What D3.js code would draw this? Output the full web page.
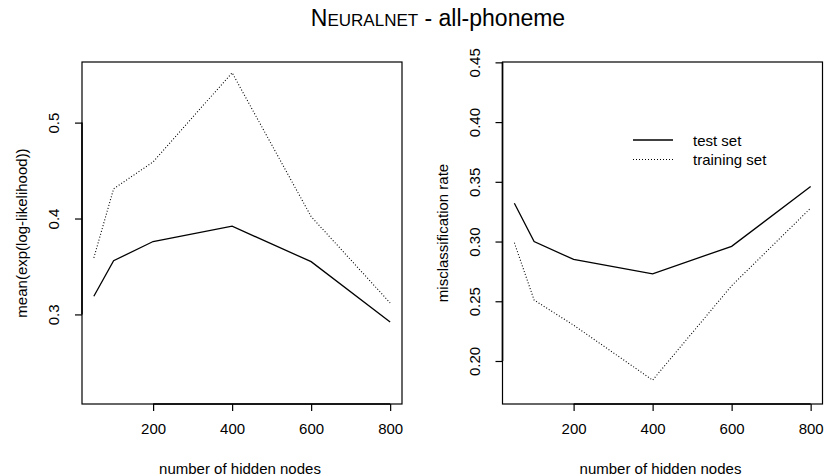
<!DOCTYPE html>
<html>
<head>
<meta charset="utf-8">
<script src="https://cdn.jsdelivr.net/npm/d3@7"></script>
<style>
  body { margin: 0; background: #fff; }
  svg { display: block; font-family: "Liberation Sans", Arial, sans-serif; }
</style>
</head>
<body>
<svg width="824" height="476"></svg>
<script>
// hidden node counts
var nodes = [50, 100, 200, 400, 600, 800];

// left panel: mean(exp(log-likelihood))
var likTest = [0.319, 0.356, 0.376, 0.392, 0.355, 0.292];
var likTrain = [0.359, 0.431, 0.459, 0.552, 0.402, 0.312];

// right panel: misclassification rate
var errTest = [0.332, 0.300, 0.285, 0.273, 0.296, 0.346];
var errTrain = [0.299, 0.251, 0.230, 0.184, 0.263, 0.328];

var xTicks = [200, 400, 600, 800];
var likTicks = [0.3, 0.4, 0.5];
var errTicks = [0.20, 0.25, 0.30, 0.35, 0.40, 0.45];

var svg = d3.select("svg");

// title with small caps for the method name
var title = svg.append("text")
    .attr("x", 438).attr("y", 25.5)
    .attr("text-anchor", "middle")
    .attr("font-size", 23);
title.append("tspan").text("N");
title.append("tspan").attr("font-size", 17).text("EURALNET");
title.append("tspan").text(" - all-phoneme");

function panel(left, yDomain, yTicks, yFmt, test, train, ylab) {
    var x = d3.scaleLinear().domain([20, 830]).range([left, left + 320]);
    var y = d3.scaleLinear().domain(yDomain).range([404, 62]);
    var g = svg.append("g");

    var xa = g.append("g").attr("transform", "translate(0,404)")
        .call(d3.axisBottom(x).tickValues(xTicks).tickSize(7).tickPadding(12));
    xa.select(".domain").remove();
    xa.selectAll("text").attr("font-size", 15).attr("font-family", null).attr("dy", "0.71em");

    var ya = g.append("g").attr("transform", "translate(" + left + ",0)")
        .call(d3.axisLeft(y).tickValues(yTicks).tickFormat(yFmt).tickSize(7));
    ya.select(".domain").remove();
    ya.selectAll("text")
        .attr("font-size", 15).attr("font-family", null)
        .attr("text-anchor", "middle")
        .attr("x", null).attr("dy", null)
        .attr("transform", "translate(-23,0) rotate(-90)");

    g.selectAll(".tick line").attr("stroke-width", 1.2);

    g.append("rect")
        .attr("x", left).attr("y", 62)
        .attr("width", 320).attr("height", 342)
        .attr("fill", "none").attr("stroke", "#000").attr("stroke-width", 1.2);

    // axis lines between first and last tick, drawn over the box
    g.append("line")
        .attr("x1", x(xTicks[0])).attr("x2", x(xTicks[xTicks.length - 1]))
        .attr("y1", 404).attr("y2", 404)
        .attr("stroke", "#000").attr("stroke-width", 1.6);
    g.append("line")
        .attr("x1", left).attr("x2", left)
        .attr("y1", y(yTicks[0])).attr("y2", y(yTicks[yTicks.length - 1]))
        .attr("stroke", "#000").attr("stroke-width", 1.6);

    var line = d3.line()
        .x(function(d, i) { return x(nodes[i]); })
        .y(function(d) { return y(d); });

    g.append("path").datum(test).attr("d", line)
        .attr("fill", "none").attr("stroke", "#000").attr("stroke-width", 1.3);
    g.append("path").datum(train).attr("d", line)
        .attr("fill", "none").attr("stroke", "#000").attr("stroke-width", 1.1)
        .attr("stroke-dasharray", "1,2");

    g.append("text")
        .attr("x", left + 160 - 2).attr("y", 474)
        .attr("text-anchor", "middle").attr("font-size", 15)
        .text("number of hidden nodes");

    g.append("text")
        .attr("transform", "translate(" + (left - 55) + ",233) rotate(-90)")
        .attr("text-anchor", "middle").attr("font-size", 15)
        .text(ylab);
}

panel(82, [0.2066, 0.5632], likTicks, d3.format(".1f"), likTest, likTrain,
      "mean(exp(log-likelihood))");
panel(502.5, [0.164, 0.4503], errTicks, d3.format(".2f"), errTest, errTrain,
      "misclassification rate");

// legend in the right panel
var legend = [
    {label: "test set", dash: null},
    {label: "training set", dash: "1,2"}
];
var lg = svg.append("g");
legend.forEach(function(d, i) {
    var yy = 140 + i * 19.5;
    lg.append("line")
        .attr("x1", 633).attr("x2", 673).attr("y1", yy).attr("y2", yy)
        .attr("stroke", "#000").attr("stroke-width", d.dash ? 1.1 : 1.3)
        .attr("stroke-dasharray", d.dash);
    lg.append("text")
        .attr("x", 693).attr("y", yy + 5.5)
        .attr("font-size", 15)
        .text(d.label);
});
</script>
</body>
</html>
